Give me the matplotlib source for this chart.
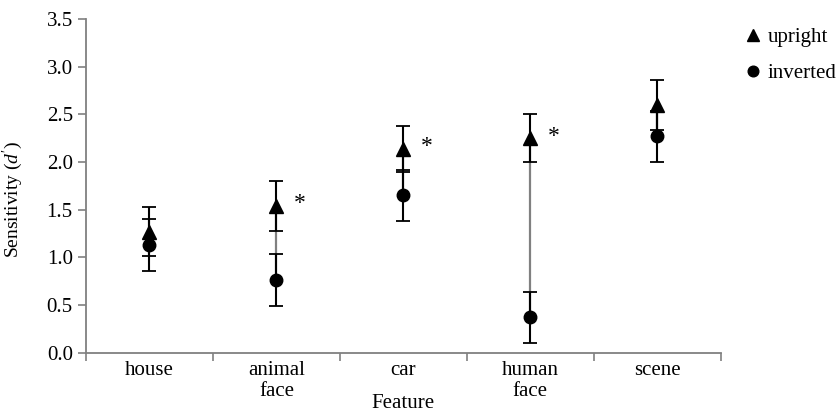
import numpy as np
import matplotlib
matplotlib.use('Agg')
import matplotlib.pyplot as plt

plt.rcParams['font.family'] = ['Liberation Serif', 'DejaVu Serif']
plt.rcParams['mathtext.fontset'] = 'custom'
plt.rcParams['mathtext.rm'] = 'Liberation Serif'
plt.rcParams['mathtext.it'] = 'Liberation Serif:italic'

# data
features = ['house', 'animal\nface', 'car', 'human\nface', 'scene']
upright = [1.27, 1.54, 2.14, 2.25, 2.60]
upright_err = [0.26, 0.26, 0.24, 0.25, 0.26]
inverted = [1.13, 0.76, 1.65, 0.37, 2.27]
inverted_err = [0.27, 0.27, 0.27, 0.27, 0.27]
significant = [False, True, True, True, False]

x = np.arange(len(features))
fs = 15

fig = plt.figure(figsize=(8.38, 4.15), dpi=100)
ax = fig.add_axes([0.1026, 0.1506, 0.8602 - 0.1026, 0.9535 - 0.1506])

spine_col = '#808080'
# grey line linking the two conditions
ax.vlines(x, inverted, upright, color=spine_col, lw=1.6, zorder=1)

ax.errorbar(x, upright, yerr=upright_err, fmt='none', ecolor='black',
            elinewidth=1.5, capsize=5, capthick=1.3, zorder=2)
ax.errorbar(x, inverted, yerr=inverted_err, fmt='none', ecolor='black',
            elinewidth=1.5, capsize=5, capthick=1.3, zorder=2)

ax.plot(x, upright, linestyle='none', marker='^', ms=10, color='black',
        label='upright', zorder=3)
ax.plot(x, inverted, linestyle='none', marker='o', ms=9, color='black',
        label='inverted', zorder=3)

for xi, yi, s in zip(x, upright, significant):
    if s:
        ax.annotate('*', xy=(xi, yi), xytext=(17, 1.5), textcoords='offset points',
                    ha='center', va='center', fontsize=17)

ax.set_xlim(-0.5, len(features) - 0.5)
ax.set_ylim(0, 3.5)
ax.set_yticks(np.arange(0, 3.51, 0.5))
ax.set_yticklabels(['%.1f' % v for v in np.arange(0, 3.51, 0.5)])

ax.set_xticks(np.arange(-0.5, len(features)), labels=[''] * (len(features) + 1))
ax.set_xticks(x, minor=True)
ax.set_xticklabels(features, minor=True, linespacing=1.15)
ax.tick_params(axis='x', which='minor', length=0, pad=6)

ax.tick_params(axis='both', which='major', color=spine_col, length=6,
               width=1.2, labelsize=fs)
ax.tick_params(axis='x', which='minor', labelsize=fs)

for side in ['top', 'right']:
    ax.spines[side].set_visible(False)
for side in ['left', 'bottom']:
    ax.spines[side].set_color(spine_col)
    ax.spines[side].set_linewidth(1.3)

ax.set_xlabel('Feature', fontsize=fs, labelpad=-5)
ax.set_ylabel("Sensitivity ($d'$)", fontsize=14)
ax.yaxis.set_label_coords(-0.096, 0.46)

ax.legend(loc='upper left', bbox_to_anchor=(1.028, 1.0), frameon=False,
          fontsize=fs, handlelength=0.6, handletextpad=0.4, labelspacing=0.8,
          borderaxespad=0.0, markerscale=0.85)

fig.savefig('out.png', dpi=100)
